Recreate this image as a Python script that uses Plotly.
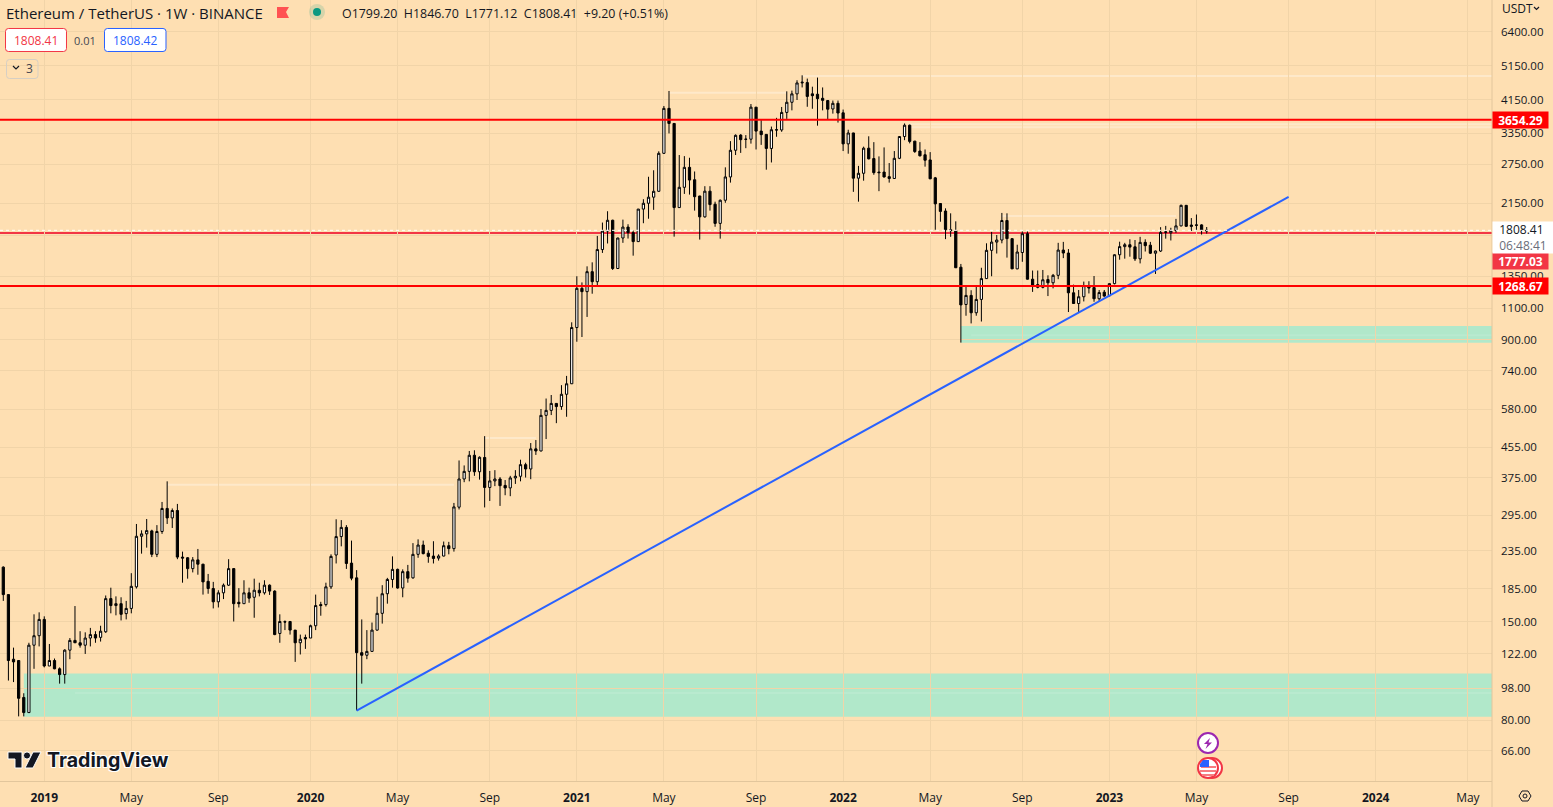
import math
import pandas as pd
import plotly.graph_objects as go

# weekly ETHUSDT candles
dates = pd.date_range("2018-11-12", periods=236, freq="W-MON")

opens = [
    212, 178, 118, 117, 92.5, 84, 129, 137, 152, 113,
    117, 111, 107, 125, 133, 131, 129, 135, 138, 135.6,
    140.5, 173.5, 166, 168, 157.7, 163, 187, 258, 262, 267,
    230, 266, 308, 290, 304, 226, 225, 210, 222, 216,
    193.7, 185, 170, 180, 189, 210, 169.5, 168, 180, 175,
    183, 180, 189, 182, 139, 149.8, 150, 142, 131, 135.5,
    135, 146, 167, 167, 187, 229, 257.5, 273, 217.5, 198,
    123, 121, 124, 142, 158, 179, 196, 209, 185.6, 206,
    198, 230, 244, 231.6, 227.5, 224.5, 227.5, 243, 238.5, 310.5,
    371.5, 390, 432, 389, 426, 352, 367, 371.5, 356.6, 351,
    374, 378, 407, 396, 450, 444, 557, 575, 601, 589,
    637, 681, 974, 1250, 1224, 1390, 1304, 1600, 1800, 1928,
    1418, 1722, 1846, 1782, 1683, 2070, 2148, 2233, 2318, 2952,
    3930, 3570, 2090, 2378, 2700, 2495, 2250, 1970, 2320, 2135,
    1890, 2190, 2540, 3010, 3315, 3225, 3230, 3960, 3400, 3330,
    3045, 3430, 3425, 3830, 4085, 4310, 4620, 4630, 4310, 4300,
    4190, 4130, 3915, 4058, 3820, 3135, 3360, 2520, 2600, 3050,
    2855, 2620, 2620, 2545, 2515, 2860, 3285, 3530, 3190, 2995,
    2925, 2830, 2525, 2145, 2045, 1815, 1805, 1430, 1128, 1195,
    1070, 1165, 1330, 1592, 1678, 1700, 1925, 1715, 1415, 1570,
    1770, 1325, 1280, 1258, 1322, 1295, 1358, 1595, 1565, 1215,
    1135, 1185, 1272, 1256, 1170, 1220, 1192, 1288, 1548, 1630,
    1650, 1628, 1508, 1675, 1645, 1563, 1585, 1785, 1780, 1805,
    1860, 2120, 1870, 1872, 1872, 1799.2,
]
highs = [
    213, 178, 127, 117, 95, 131, 157, 159, 155, 130,
    118.5, 112, 125.7, 135, 165.5, 141, 140, 144, 141, 146,
    177, 186, 176, 175, 171, 204, 279, 268, 288, 269,
    277, 321, 366, 308, 317, 234, 226, 226, 238, 216.5,
    203, 193, 183, 191, 223, 210.5, 185.5, 195, 186, 197,
    192, 195, 190, 183, 157, 151, 150.5, 142, 138, 138,
    147, 178, 170, 192, 230, 287.5, 286, 277, 251, 208,
    152, 142, 149, 175.6, 189, 198, 227, 210, 209, 215,
    247, 253, 251, 236, 250, 230, 249.5, 249, 319, 418,
    405, 444, 446, 429, 488, 391, 393, 376, 369, 379,
    393, 420, 412, 467, 476, 580, 620, 634, 602, 675,
    716, 1007, 1350, 1298, 1438, 1475, 1745, 1900, 2042, 1935,
    1725, 1936, 1880, 1805, 2072, 2204, 2543, 2650, 2990, 3990,
    4390, 3575, 2920, 2900, 2870, 2630, 2252, 2395, 2395, 2170,
    2200, 2700, 3190, 3330, 3335, 3315, 4040, 3965, 3665, 3335,
    3500, 3700, 3965, 4380, 4400, 4700, 4850, 4750, 4511, 4780,
    4490, 4145, 4130, 4130, 3900, 3430, 3365, 2725, 3080, 3290,
    3170, 2895, 3065, 2775, 2995, 3295, 3570, 3545, 3195, 3170,
    3025, 2975, 2540, 2148, 2080, 2015, 1915, 1460, 1270, 1235,
    1275, 1425, 1665, 1790, 1755, 2020, 2015, 1720, 1650, 1795,
    1795, 1400, 1400, 1405, 1358, 1370, 1670, 1680, 1605, 1280,
    1237, 1305, 1308, 1352, 1237, 1237, 1290, 1552, 1682, 1670,
    1708, 1700, 1735, 1708, 1680, 1590, 1845, 1860, 1838, 1945,
    2130, 2125, 1955, 2000, 1880, 1846.7,
]
lows = [
    171, 103, 102, 82, 82, 84, 111, 128, 112, 113,
    110.7, 101, 101, 118, 131, 127, 122, 128, 131, 132,
    139.5, 158, 156, 151, 152, 158, 185, 231, 240, 226,
    226, 262, 279, 272, 223, 192, 197, 205, 202, 178,
    179, 163, 164, 173, 188, 150, 164, 168, 169, 153.6,
    176, 178, 177.6, 137.5, 131, 142, 138, 116, 121.6, 126,
    135, 142, 155.6, 165, 184.5, 217, 242, 209.6, 195, 85.2,
    101, 118, 123.7, 141.5, 148, 168, 186, 184.8, 175, 192,
    197, 225, 230, 218, 217, 221, 227, 230, 234, 306,
    364, 366, 379, 370, 310, 323, 355, 313, 335, 333,
    360, 366, 375, 371, 433, 443, 479, 558, 530, 577,
    552, 680, 890, 917, 1042, 1208, 1272, 1566, 1663, 1405,
    1415, 1670, 1716, 1539, 1680, 1892, 1947, 2060, 2310, 2940,
    3350, 1737, 2085, 2280, 2270, 2050, 1705, 1960, 2050, 1850,
    1715, 2155, 2450, 2920, 2960, 3050, 3140, 3025, 3115, 2660,
    2785, 3280, 3385, 3675, 3880, 4145, 4490, 3970, 3920, 3520,
    3880, 3650, 3800, 3590, 2995, 2945, 2310, 2170, 2480, 2840,
    2575, 2320, 2530, 2450, 2510, 2845, 3210, 3145, 2960, 2895,
    2712, 2505, 1815, 1910, 1710, 1735, 1425, 885, 1050, 1000,
    1050, 1012, 1328, 1350, 1560, 1665, 1520, 1415, 1412, 1480,
    1322, 1222, 1250, 1250, 1190, 1250, 1325, 1515, 1075, 1132,
    1075, 1150, 1210, 1148, 1148, 1185, 1188, 1282, 1500, 1510,
    1529, 1488, 1465, 1580, 1555, 1370, 1575, 1715, 1695, 1780,
    1855, 1848, 1800, 1805, 1760, 1771.12,
]
closes = [
    178, 117, 116, 92, 84, 129, 137, 152, 113, 117,
    111, 107, 125, 133, 131, 129, 135, 138, 135, 141,
    173.5, 166, 168, 157, 163, 187.6, 258, 262, 267.5, 230,
    266, 308, 290, 304, 226, 224.6, 210, 222, 216, 193,
    185, 170, 180, 189, 210, 168, 168, 180, 174, 183,
    180, 189, 182, 138, 150, 149.5, 142, 131, 134, 134.3,
    146, 166, 166, 187, 227, 257.5, 273, 217, 197.6, 123,
    121, 124, 142, 158, 179, 196, 209, 185.6, 206, 197.6,
    230, 244, 231, 227, 224, 227.5, 243, 238.5, 311, 371.5,
    390, 432, 389, 426.6, 352, 367, 371.5, 356, 351, 374,
    378, 407, 396, 450, 444, 557, 575, 601, 589, 637,
    681, 974, 1250, 1224, 1390, 1304, 1600, 1800, 1928, 1418,
    1722, 1846, 1782, 1683, 2070, 2148, 2233, 2318, 2952, 3930,
    3570, 2090, 2378, 2700, 2490, 2240, 1970, 2320, 2130, 1890,
    2190, 2540, 3010, 3310, 3220, 3230, 3960, 3400, 3325, 3045,
    3430, 3425, 3830, 4085, 4310, 4620, 4640, 4240, 4260, 4180,
    4135, 3910, 4058, 3815, 3135, 3360, 2520, 2600, 3050, 2850,
    2610, 2610, 2540, 2515, 2860, 3285, 3530, 3185, 2985, 2905,
    2825, 2510, 2140, 2040, 1815, 1805, 1425, 1125, 1195, 1070,
    1165, 1330, 1592, 1678, 1700, 1925, 1715, 1415, 1575, 1770,
    1325, 1275, 1258, 1320, 1295, 1358, 1595, 1565, 1215, 1135,
    1185, 1272, 1252, 1170, 1217, 1190, 1288, 1548, 1630, 1650,
    1625, 1508, 1675, 1640, 1563, 1585, 1785, 1790, 1805, 1860,
    2120, 1855, 1855, 1868, 1810, 1808.41,
]

# axes
price_ticks = [6400, 5150, 4150, 3350, 2750, 2150, 1750, 1350, 1100, 900, 740, 580,
               455, 375, 295, 235, 185, 150, 122, 98, 80, 66]
hidden_ticks = [1750]  # label sits behind the last price box in the original
date_ticks = ["2019-01-07", "2019-05-06", "2019-09-02", "2020-01-06", "2020-05-04", "2020-09-07",
              "2021-01-04", "2021-05-03", "2021-09-06", "2022-01-03", "2022-05-02", "2022-09-05",
              "2023-01-02", "2023-05-01", "2023-09-04", "2024-01-01", "2024-05-06"]
date_labels = ["<b>2019</b>", "May", "Sep", "<b>2020</b>", "May", "Sep", "<b>2021</b>", "May", "Sep",
               "<b>2022</b>", "May", "Sep", "<b>2023</b>", "May", "Sep", "<b>2024</b>", "May"]
x_start, x_end = "2018-11-07 12:00", "2024-06-08"

# drawings on the chart
red_levels = [3654.29, 1268.67]
alert_level = 1777.03
last_close = 1808.41
trend_dates = ["2020-03-09", "2023-09-04"]
trend_prices = [85.1, 2238]
zones = [("2018-12-10", 81.8, 107.7), ("2022-06-13", 884, 983)]
faint_levels = [
    ("2019-06-24", "2020-07-20", 358, 0.32), ("2020-08-31", "2020-11-09", 482, 0.32),
    ("2021-05-10", "2021-10-18", 4341, 0.32), ("2021-11-08", x_end, 4826, 0.32),
    ("2022-04-04", x_end, 3554, 0.3), ("2022-04-04", x_end, 3487, 0.3),
    ("2022-01-17", "2022-06-06", 1750, 0.25), ("2022-08-08", "2023-04-03", 1981, 0.3),
    ("2019-02-18", x_end, 95.2, 0.1), ("2022-06-27", x_end, 928, 0.1),
]

BG = "#FEDFB2"
GRID = "#F1D4A8"
EDGE = "#E2C69C"
INK = "#131722"
FONT = "Open Sans"
PLOT_W, PLOT_H = 1492, 781


def px(x):
    return x / PLOT_W


def py(y):
    return 1 - y / PLOT_H


def path(points, close=True):
    d = "M" + " L".join(f"{px(a):.5f},{py(b):.5f}" for a, b in points)
    return d + (" Z" if close else "")


def rounded(x0, y0, x1, y1, r=3):
    a, b, c, d = px(x0), py(y0), px(x1), py(y1)
    rx, ry = r / PLOT_W, r / PLOT_H
    return (f"M{a + rx:.5f},{b:.5f} L{c - rx:.5f},{b:.5f} Q{c:.5f},{b:.5f} {c:.5f},{b - ry:.5f} "
            f"L{c:.5f},{d + ry:.5f} Q{c:.5f},{d:.5f} {c - rx:.5f},{d:.5f} L{a + rx:.5f},{d:.5f} "
            f"Q{a:.5f},{d:.5f} {a:.5f},{d + ry:.5f} L{a:.5f},{b - ry:.5f} Q{a:.5f},{b:.5f} {a + rx:.5f},{b:.5f} Z")


def ui_path(d, fill=None, line=None, width=1):
    return dict(type="path", xref="paper", yref="paper", path=d, fillcolor=fill,
                line=dict(color=line, width=width if line else 0), layer="above")


def ui_circle(cx, cy, r, fill=None, line=None, width=1):
    return dict(type="circle", xref="paper", yref="paper", x0=px(cx - r), x1=px(cx + r),
                y0=py(cy + r), y1=py(cy - r), fillcolor=fill,
                line=dict(color=line, width=width if line else 0), layer="above")


def ui_text(x, y, text, size=12, color=INK, anchor="left", **kw):
    return dict(xref="paper", yref="paper", x=px(x), y=py(y), text=text, showarrow=False,
                xanchor=anchor, yanchor="middle", font=dict(family=FONT, size=size, color=color),
                borderpad=0, **kw)


def price_tag(price, text, color, yshift=0):
    return dict(xref="paper", yref="y", x=1, y=math.log10(price), yshift=yshift, text=f"<b>{text}</b>",
                showarrow=False, xanchor="left", yanchor="middle", width=55, height=16, align="center",
                bgcolor=color, font=dict(family=FONT, size=12, color="white"), borderpad=0, xshift=0)


fig = go.Figure()

fig.add_trace(go.Candlestick(
    x=dates, open=opens, high=highs, low=lows, close=closes,
    increasing=dict(line=dict(color="black", width=1), fillcolor="white"),
    decreasing=dict(line=dict(color="black", width=1), fillcolor="black"),
    whiskerwidth=0, hoverinfo="skip", showlegend=False,
))
fig.add_trace(go.Scatter(
    x=trend_dates, y=trend_prices, mode="lines",
    line=dict(color="#2962FF", width=2), hoverinfo="skip", showlegend=False,
))

shapes = []
for start, low, high in zones:
    shapes.append(dict(type="rect", xref="x", yref="y", x0=start, x1=x_end, y0=low, y1=high,
                       fillcolor="#B1E8CA", line=dict(width=0), layer="below"))
for start, end, level, alpha in faint_levels:
    shapes.append(dict(type="line", xref="x", yref="y", x0=start, x1=end, y0=level, y1=level,
                       line=dict(color=f"rgba(255,255,255,{alpha})", width=2), layer="below"))
shapes.append(dict(type="line", xref="x", yref="y", x0=x_start, x1=x_end, y0=alert_level, y1=alert_level,
                   line=dict(color="#F23645", width=2), layer="below"))
for level in red_levels:
    shapes.append(dict(type="line", xref="x", yref="y", x0=x_start, x1=x_end, y0=level, y1=level,
                       line=dict(color="#FF0000", width=2), layer="above"))
shapes.append(dict(type="line", xref="x", yref="y", x0=x_start, x1=x_end, y0=last_close, y1=last_close,
                   line=dict(color="white", width=1, dash="dot"), layer="above"))

# axis divider
shapes.append(ui_path(path([(PLOT_W, 0), (PLOT_W, 807)], close=False), line=EDGE))

# header chrome
shapes.append(ui_path(path([(277, 7), (289, 7), (286, 12), (289, 18), (277, 18)]), fill="#FF5252"))
shapes.append(ui_circle(317, 12, 8, fill="rgba(8,153,129,0.16)"))
shapes.append(ui_circle(317, 12, 4, fill="#089981"))
shapes.append(ui_path(rounded(5.5, 28.5, 66.5, 51.5), fill="white", line="#F23645"))
shapes.append(ui_path(rounded(104.5, 28.5, 166, 51.5), fill="white", line="#2962FF"))
shapes.append(ui_path(rounded(6.5, 59.5, 38, 78.5), line="#D6CFC4"))
shapes.append(ui_path(path([(13, 66), (16, 69), (19, 66)], close=False), line=INK, width=1.2))
shapes.append(ui_path(path([(1534, 7), (1536.5, 9.5), (1539, 7)], close=False), line=INK, width=1.2))

# TradingView logo
shapes.append(ui_path(path([(8, 752), (22, 752), (22, 768), (15, 768), (15, 759), (8, 759)]),
                      fill=INK, line="white"))
shapes.append(ui_circle(27, 755.5, 3.6, fill=INK, line="white"))
shapes.append(ui_path(path([(33, 752), (41, 752), (33, 768), (25, 768)]), fill=INK, line="white"))

# event markers
shapes.append(ui_circle(1208, 743, 10, fill="white", line="#9C27B0", width=2))
shapes.append(ui_path(path([(1210, 738), (1204, 744), (1207.5, 744), (1205.5, 749), (1212, 742.5), (1208.5, 742.5)]),
                      fill="#9C27B0"))
shapes.append(ui_circle(1212, 768, 10, fill="white", line="#F23645", width=2))
shapes.append(ui_circle(1208, 768, 10, fill="white", line="#F23645", width=2))
for stripe_y, half in [(771, 8), (775, 6)]:
    shapes.append(ui_path(path([(1208 - half, stripe_y), (1208 + half, stripe_y)], close=False),
                          line="#F77C80", width=2))
shapes.append(ui_path(path([(1216, 767), (1201, 767)], close=False), line="#F77C80", width=2))
shapes.append(ui_path(path([(1200, 767), (1200, 764), (1203, 760), (1209, 760), (1209, 767)]), fill="#2962FF"))

# settings icon
shapes.append(ui_path(path([(1519, 796), (1522, 791), (1528, 791), (1531, 796), (1528, 801), (1522, 801)]),
                      line=INK, width=1))
shapes.append(ui_circle(1525, 796, 2, line=INK, width=1))

annotations = [
    ui_text(5, 13, "Ethereum / TetherUS · 1W · BINANCE", size=15),
    ui_text(341, 13, "O1799.20  H1846.70  L1771.12  C1808.41  +9.20 (+0.51%)", size=12.4),
    ui_text(36, 40, "1808.41", size=12, color="#F23645", anchor="center"),
    ui_text(85, 40, "0.01", size=11, color="#434651", anchor="center"),
    ui_text(135, 40, "1808.42", size=12, color="#2962FF", anchor="center"),
    ui_text(25, 69, "3", size=12, color="#434651"),
    ui_text(1501, 8, "USDT", size=12),
    dict(xref="paper", yref="paper", x=px(46), y=py(760), text="<b>TradingView</b>", showarrow=False,
         xanchor="left", yanchor="middle", borderpad=0,
         font=dict(family="Inter", size=19.6, color=INK,
                   shadow="1px 1px 0 white, -1px -1px 0 white, 1px -1px 0 white, -1px 1px 0 white")),
    price_tag(red_levels[0], "3654.29", "#FF0000"),
    price_tag(alert_level, "1777.03", "#F23645", yshift=-28),
    price_tag(red_levels[1], "1268.67", "#FF0000"),
    dict(xref="paper", yref="y", x=1, y=math.log10(last_close), yshift=-7, showarrow=False,
         xanchor="left", yanchor="middle", width=60, height=31, align="left", bgcolor="white", borderpad=0,
         text="  1808.41<br>  <span style='color:#6A6D78'>06:48:41</span>",
         font=dict(family=FONT, size=12, color=INK)),
]

fig.update_layout(
    width=1553, height=807, autosize=False,
    margin=dict(l=0, r=61, t=0, b=26, pad=0),
    paper_bgcolor=BG, plot_bgcolor=BG,
    font=dict(family=FONT, size=12, color=INK),
    boxgap=0.38, showlegend=False, hovermode=False,
    shapes=shapes, annotations=annotations,
    xaxis=dict(
        type="date", range=[x_start, x_end], rangeslider=dict(visible=False),
        tickmode="array", tickvals=date_ticks, ticktext=date_labels, tickangle=0,
        showgrid=True, gridcolor=GRID, gridwidth=1, zeroline=False,
        showline=True, linecolor=EDGE, linewidth=1, ticks="", ticklabelstandoff=6,
        tickfont=dict(family=FONT, size=12, color=INK),
    ),
    yaxis=dict(
        type="log", side="right", range=[1.7352, 3.8939], fixedrange=True,
        tickmode="array", tickvals=price_ticks,
        ticktext=["" if t in hidden_ticks else f"{t}.00" for t in price_ticks],
        showgrid=True, gridcolor=GRID, gridwidth=1, zeroline=False,
        showline=False, ticks="", ticklabelstandoff=8,
        tickfont=dict(family=FONT, size=11.5, color=INK),
    ),
)

fig.write_html("out.html", post_script="document.body.style.margin='0';document.documentElement.style.overflow='hidden';",
               config=dict(displayModeBar=False))
